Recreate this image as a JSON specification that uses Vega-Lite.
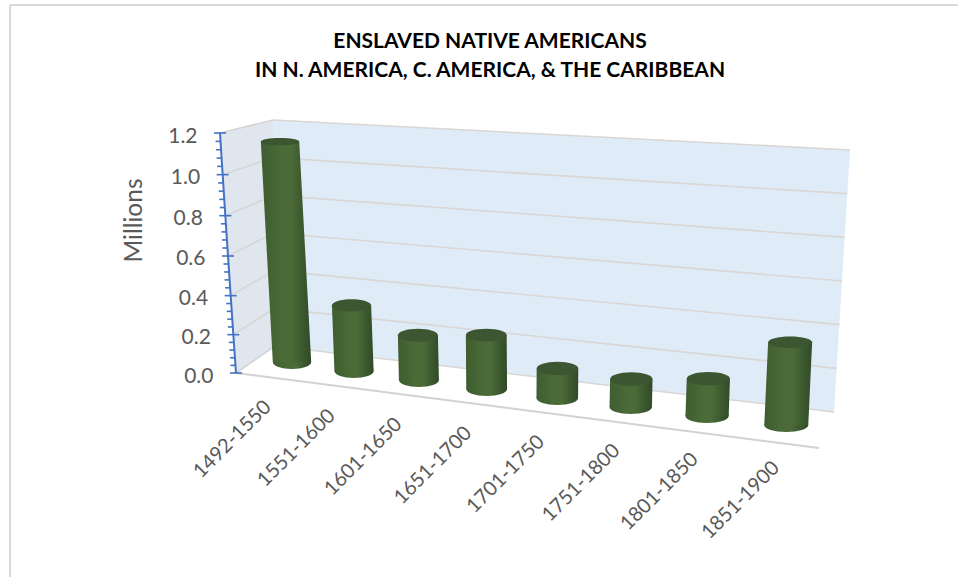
{
  "$schema": "https://vega.github.io/schema/vega-lite/v6.json",
  "autosize": "none",
  "padding": {"left": 10, "top": 5, "right": 0, "bottom": 0},
  "width": 948,
  "height": 572,
  "background": "white",
  "view": {"stroke": null},
  "title": {
    "text": ["ENSLAVED NATIVE AMERICANS", "IN N. AMERICA, C. AMERICA, & THE CARIBBEAN"],
    "font": "Lato", "fontSize": 21, "fontWeight": "bold", "color": "#000000",
    "anchor": "middle", "frame": "group", "baseline": "alphabetic",
    "lineHeight": 29, "offset": -94, "dx": 6
  },
  "datasets": {
    "periods": [
      {"period": "1492-1550", "value": 1.13},
      {"period": "1551-1600", "value": 0.33},
      {"period": "1601-1650", "value": 0.22},
      {"period": "1651-1700", "value": 0.26},
      {"period": "1701-1750", "value": 0.14},
      {"period": "1751-1800", "value": 0.13},
      {"period": "1801-1850", "value": 0.17},
      {"period": "1851-1900", "value": 0.37}
    ],
    "gridValues": [
      {"value": 0}, {"value": 0.2}, {"value": 0.4}, {"value": 0.6},
      {"value": 0.8}, {"value": 1.0}, {"value": 1.2}
    ],
    "minorValues": [
      {"value": 0.04}, {"value": 0.08}, {"value": 0.12}, {"value": 0.16},
      {"value": 0.24}, {"value": 0.28}, {"value": 0.32}, {"value": 0.36},
      {"value": 0.44}, {"value": 0.48}, {"value": 0.52}, {"value": 0.56},
      {"value": 0.64}, {"value": 0.68}, {"value": 0.72}, {"value": 0.76},
      {"value": 0.84}, {"value": 0.88}, {"value": 0.92}, {"value": 0.96},
      {"value": 1.04}, {"value": 1.08}, {"value": 1.12}, {"value": 1.16}
    ],
    "walls": [
      {"wall": "side", "seq": 1, "edge": "front", "value": 0},
      {"wall": "side", "seq": 2, "edge": "front", "value": 1.2},
      {"wall": "side", "seq": 3, "edge": "back", "value": 1.2},
      {"wall": "side", "seq": 4, "edge": "back", "value": 0},
      {"wall": "back", "seq": 1, "edge": "back", "value": 0},
      {"wall": "back", "seq": 2, "edge": "back", "value": 1.2},
      {"wall": "back", "seq": 3, "edge": "right", "value": 1.2},
      {"wall": "back", "seq": 4, "edge": "right", "value": 0}
    ],
    "floorFront": [{"end": "left"}, {"end": "right"}]
  },
  "data": {"name": "periods"},
  "transform": [
    {"window": [{"op": "row_number", "as": "rank"}]},
    {"calculate": "datum.rank - 1", "as": "i"},
    {"calculate": "0.8657 * datum.i + 0.02043 * datum.i * datum.i", "as": "baseX"},
    {"calculate": "0.055 - 0.045 * datum.i", "as": "baseY"},
    {"calculate": "0.975 + 0.0205 * datum.i", "as": "unit"},
    {"calculate": "datum.baseY + datum.value * datum.unit", "as": "topY"},
    {"calculate": "datum.baseX + datum.value * (-0.1514 + 0.04286 * datum.i)", "as": "topX"},
    {"calculate": "0.2743 + 0.00571 * datum.i", "as": "halfWidth"},
    {"calculate": "pow(38.4 + 0.8 * datum.i, 2)", "as": "capSize"},
    {"calculate": "(7.2 - 3.3 * datum.value * datum.unit) / (19.2 + 0.4 * datum.i)", "as": "topRatio"},
    {"calculate": "7 / (19.2 + 0.4 * datum.i)", "as": "baseRatio"},
    {"calculate": "'M-1,0A1,' + datum.topRatio + ',0,1,1,1,0A1,' + datum.topRatio + ',0,1,1,-1,0Z'", "as": "topShape"},
    {"calculate": "'M-1,0A1,' + datum.baseRatio + ',0,1,1,1,0A1,' + datum.baseRatio + ',0,1,1,-1,0Z'", "as": "baseShape"},
    {"calculate": "datum.baseX - 0.3443 + 0.02857 * datum.i", "as": "labelX"},
    {"calculate": "-0.155 - 0.0435 * datum.i", "as": "labelY"}
  ],
  "resolve": {"axis": {"y": "independent", "x": "independent"}},
  "layer": [
    {
      "data": {"name": "walls"},
      "transform": [
        {"calculate": "datum.edge === 'front' ? -0.8 - 0.1905 * datum.value : datum.edge === 'back' ? -0.2429 - 0.0238 * datum.value : 7.743 + 0.1905 * datum.value", "as": "px"},
        {"calculate": "datum.edge === 'front' ? datum.value : datum.edge === 'back' ? 0.135 + 0.9417 * datum.value : -0.195 + 1.0917 * datum.value", "as": "py"}
      ],
      "mark": {"type": "line", "stroke": null, "strokeWidth": 0},
      "encoding": {
        "x": {"field": "px", "type": "quantitative", "scale": {"domain": [-4.0286, 9.5143]}, "axis": null},
        "y": {"field": "py", "type": "quantitative", "scale": {"domain": [-1.02, 1.84]},
          "axis": {
            "title": "Millions", "titleFont": "Lato", "titleFontSize": 24.5, "titleFontWeight": "normal",
            "titleColor": "#595959", "titleX": -67, "titleY": 215, "titleAngle": -90,
            "values": [0, 0.2, 0.4, 0.6, 0.8, 1.0, 1.2], "format": ".1f",
            "offset": -203, "domain": false, "ticks": false, "grid": false, "labelPadding": 0,
            "labelFont": "Lato", "labelFontSize": 21, "labelColor": "#595959",
            "encoding": {"labels": {
              "dx": {"value": {"expr": "-13.3 * datum.value"}},
              "dy": {"value": {"expr": "3 + 8 * datum.value * (1.2 - datum.value)"}}
            }}
          }
        },
        "order": {"field": "seq", "type": "quantitative"},
        "fill": {"field": "wall", "type": "nominal", "legend": null,
          "scale": {"domain": ["side", "back"], "range": ["#e0e6ee", "#dfecf8"]}}
      }
    },
    {
      "data": {"values": [{}]},
      "mark": {"type": "rule", "stroke": "#d9d9d9", "strokeWidth": 2},
      "encoding": {"x": {"datum": -4.0286, "type": "quantitative", "scale": {"domain": [-4.0286, 9.5143]}, "axis": null}}
    },
    {
      "data": {"values": [{}]},
      "mark": {"type": "rule", "stroke": "#d9d9d9", "strokeWidth": 2},
      "encoding": {"y": {"datum": 1.84, "type": "quantitative", "scale": {"domain": [-1.02, 1.84]}, "axis": null}}
    },
    {
      "data": {"name": "gridValues"},
      "transform": [
        {"calculate": "-0.2429 - 0.0238 * datum.value", "as": "x1"},
        {"calculate": "0.135 + 0.9417 * datum.value", "as": "y1"},
        {"calculate": "7.743 + 0.1905 * datum.value", "as": "x2"},
        {"calculate": "-0.195 + 1.0917 * datum.value", "as": "y2"}
      ],
      "mark": {"type": "rule", "stroke": "#d9d6d4", "strokeWidth": 1.6},
      "encoding": {
        "x": {"field": "x1", "type": "quantitative", "scale": {"domain": [-4.0286, 9.5143]}, "axis": null},
        "y": {"field": "y1", "type": "quantitative", "scale": {"domain": [-1.02, 1.84]}, "axis": null},
        "x2": {"field": "x2"},
        "y2": {"field": "y2"}
      }
    },
    {
      "data": {"name": "gridValues"},
      "transform": [
        {"calculate": "-0.8 - 0.1905 * datum.value", "as": "x1"},
        {"calculate": "-0.2429 - 0.0238 * datum.value", "as": "x2"},
        {"calculate": "datum.value - 0.0417 * datum.value * (1.2 - datum.value)", "as": "y1"},
        {"calculate": "0.135 + 0.9417 * datum.value", "as": "y2"}
      ],
      "mark": {"type": "rule", "stroke": "#d5d5d5", "strokeWidth": 1.6},
      "encoding": {
        "x": {"field": "x1", "type": "quantitative", "scale": {"domain": [-4.0286, 9.5143]}, "axis": null},
        "y": {"field": "y1", "type": "quantitative", "scale": {"domain": [-1.02, 1.84]}, "axis": null},
        "x2": {"field": "x2"},
        "y2": {"field": "y2"}
      }
    },
    {
      "data": {"name": "floorFront"},
      "transform": [
        {"calculate": "datum.end === 'left' ? -0.8 : 7.529", "as": "fx"},
        {"calculate": "datum.end === 'left' ? 0 : -0.375", "as": "fy"}
      ],
      "mark": {"type": "line", "stroke": "#d2d2d2", "strokeWidth": 2},
      "encoding": {
        "x": {"field": "fx", "type": "quantitative", "scale": {"domain": [-4.0286, 9.5143]}, "axis": null},
        "y": {"field": "fy", "type": "quantitative", "scale": {"domain": [-1.02, 1.84]}, "axis": null}
      }
    },
    {
      "data": {"name": "gridValues"},
      "transform": [
        {"calculate": "-0.8 - 0.1905 * datum.value", "as": "ax"},
        {"calculate": "datum.value - 0.0417 * datum.value * (1.2 - datum.value)", "as": "ay"}
      ],
      "mark": {"type": "line", "stroke": "#4472c4", "strokeWidth": 2},
      "encoding": {
        "x": {"field": "ax", "type": "quantitative", "scale": {"domain": [-4.0286, 9.5143]}, "axis": null},
        "y": {"field": "ay", "type": "quantitative", "scale": {"domain": [-1.02, 1.84]}, "axis": null}
      }
    },
    {
      "data": {"name": "gridValues"},
      "transform": [
        {"calculate": "-0.8857 - 0.1905 * datum.value", "as": "x1"},
        {"calculate": "-0.7143 - 0.1905 * datum.value", "as": "x2"},
        {"calculate": "datum.value - 0.0417 * datum.value * (1.2 - datum.value)", "as": "ay"}
      ],
      "mark": {"type": "rule", "stroke": "#4472c4", "strokeWidth": 1.6},
      "encoding": {
        "x": {"field": "x1", "type": "quantitative", "scale": {"domain": [-4.0286, 9.5143]}, "axis": null},
        "x2": {"field": "x2"},
        "y": {"field": "ay", "type": "quantitative", "scale": {"domain": [-1.02, 1.84]}, "axis": null}
      }
    },
    {
      "data": {"name": "minorValues"},
      "transform": [
        {"calculate": "-0.8714 - 0.1905 * datum.value", "as": "x1"},
        {"calculate": "-0.8 - 0.1905 * datum.value", "as": "x2"},
        {"calculate": "datum.value - 0.0417 * datum.value * (1.2 - datum.value)", "as": "ay"}
      ],
      "mark": {"type": "rule", "stroke": "#4472c4", "strokeWidth": 1.6},
      "encoding": {
        "x": {"field": "x1", "type": "quantitative", "scale": {"domain": [-4.0286, 9.5143]}, "axis": null},
        "x2": {"field": "x2"},
        "y": {"field": "ay", "type": "quantitative", "scale": {"domain": [-1.02, 1.84]}, "axis": null}
      }
    },
    {
      "mark": {
        "type": "point", "filled": true, "opacity": 1,
        "color": {
          "x1": 0, "x2": 1, "y1": 0, "y2": 0, "gradient": "linear",
          "stops": [
            {"offset": 0, "color": "#3f5d30"},
            {"offset": 0.4, "color": "#4a6a37"},
            {"offset": 0.6, "color": "#4b6b38"},
            {"offset": 1, "color": "#304a27"}
          ]
        }
      },
      "encoding": {
        "x": {"field": "baseX", "type": "quantitative", "scale": {"domain": [-4.0286, 9.5143]}, "axis": null},
        "y": {"field": "baseY", "type": "quantitative", "scale": {"domain": [-1.02, 1.84]}, "axis": null},
        "shape": {"field": "baseShape", "type": "nominal", "scale": null},
        "size": {"field": "capSize", "type": "quantitative", "scale": null}
      }
    },
    {
      "transform": [
        {"fold": ["baseY", "topY"], "as": ["end", "endY"]},
        {"calculate": "datum.end === 'topY' ? datum.topX : datum.baseX", "as": "centerX"},
        {"calculate": "datum.centerX - datum.halfWidth", "as": "leftX"},
        {"calculate": "datum.centerX + datum.halfWidth", "as": "rightX"}
      ],
      "mark": {
        "type": "area", "orient": "horizontal",
        "color": {
          "x1": 0, "x2": 1, "y1": 0, "y2": 0, "gradient": "linear",
          "stops": [
            {"offset": 0, "color": "#3f5d30"},
            {"offset": 0.4, "color": "#4a6a37"},
            {"offset": 0.6, "color": "#4b6b38"},
            {"offset": 1, "color": "#304a27"}
          ]
        }
      },
      "encoding": {
        "x": {"field": "leftX", "type": "quantitative", "scale": {"domain": [-4.0286, 9.5143]}, "axis": null},
        "x2": {"field": "rightX"},
        "y": {"field": "endY", "type": "quantitative", "scale": {"domain": [-1.02, 1.84]}, "axis": null},
        "detail": {"field": "period", "type": "nominal"}
      }
    },
    {
      "mark": {"type": "point", "filled": true, "opacity": 1, "color": "#3b5630"},
      "encoding": {
        "x": {"field": "topX", "type": "quantitative", "scale": {"domain": [-4.0286, 9.5143]}, "axis": null},
        "y": {"field": "topY", "type": "quantitative", "scale": {"domain": [-1.02, 1.84]}, "axis": null},
        "shape": {"field": "topShape", "type": "nominal", "scale": null},
        "size": {"field": "capSize", "type": "quantitative", "scale": null}
      }
    },
    {
      "mark": {
        "type": "text", "angle": 315, "align": "right", "baseline": "middle",
        "font": "Lato", "fontSize": 20, "color": "#595959"
      },
      "encoding": {
        "x": {"field": "labelX", "type": "quantitative", "scale": {"domain": [-4.0286, 9.5143]}, "axis": null},
        "y": {"field": "labelY", "type": "quantitative", "scale": {"domain": [-1.02, 1.84]}, "axis": null},
        "text": {"field": "period", "type": "nominal"}
      }
    }
  ]
}
